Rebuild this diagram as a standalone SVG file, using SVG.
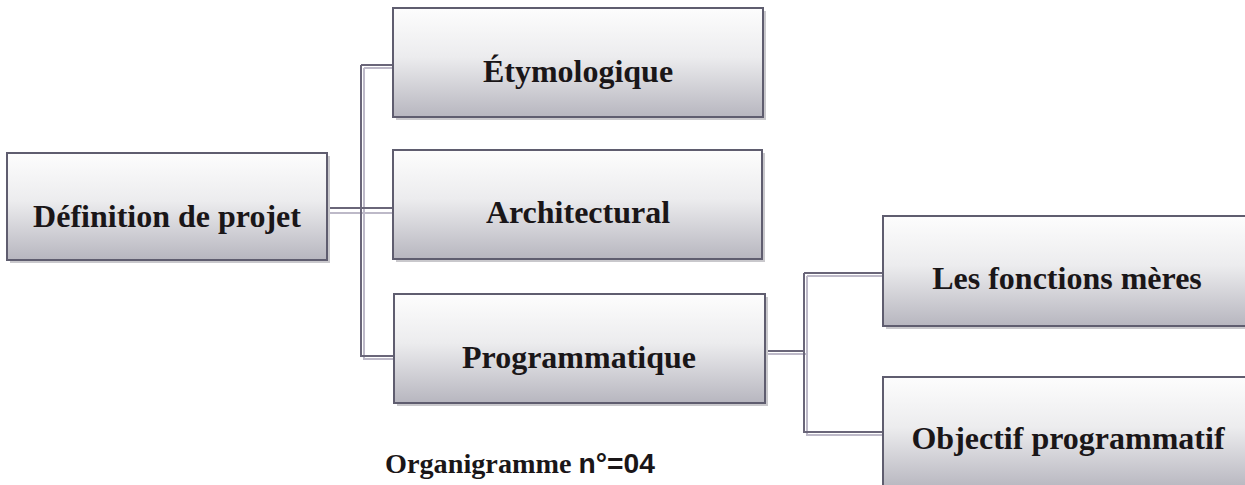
<svg xmlns="http://www.w3.org/2000/svg" width="1245" height="485" viewBox="0 0 1245 485">
<defs>
<linearGradient id="g" x1="0" y1="0" x2="0" y2="1">
<stop offset="0" stop-color="#fdfdfd"/>
<stop offset="0.45" stop-color="#ececee"/>
<stop offset="1" stop-color="#b7b6bf"/>
</linearGradient>
</defs>
<style>
.shadow{fill:#c9c8cc}
.box{fill:url(#g);stroke:#5f5d6f;stroke-width:2}
.lbl{font-family:"Liberation Serif","Times New Roman",serif;font-weight:bold;font-size:32px;fill:#1a1618;text-anchor:middle}
.dk{fill:none;stroke:#6a6679;stroke-width:2}
.lt{fill:none;stroke:#bdb9c8;stroke-width:2}
.cap{font-family:"Liberation Serif","Times New Roman",serif;font-weight:bold;font-size:28px;fill:#1a1618}
</style>
<rect width="1245" height="485" fill="#ffffff"/>
<g id="connectors">
<path class="lt" d="M327 213H394M364 68V359H394M364 68H394"/>
<path class="dk" d="M327 208H393M361 65V356H393M361 65H393"/>
<path class="lt" d="M765 354H807M807 276V435H883M807 276H883"/>
<path class="dk" d="M765 351H804M804 273V432H882M804 273H882"/>
</g>
<g id="node-root">
<rect class="shadow" x="10" y="156" width="320" height="107"/>
<rect class="box" x="7" y="153" width="320" height="107"/>
<text class="lbl" x="167" y="227">Définition de projet</text>
</g>
<g id="node-etymologique">
<rect class="shadow" x="396" y="11" width="370" height="109"/>
<rect class="box" x="393" y="8" width="370" height="109"/>
<text class="lbl" x="578" y="82">Étymologique</text>
</g>
<g id="node-architectural">
<rect class="shadow" x="396" y="153" width="369" height="109"/>
<rect class="box" x="393" y="150" width="369" height="109"/>
<text class="lbl" x="578" y="223">Architectural</text>
</g>
<g id="node-programmatique">
<rect class="shadow" x="397" y="297" width="371" height="109"/>
<rect class="box" x="394" y="294" width="371" height="109"/>
<text class="lbl" x="579" y="368">Programmatique</text>
</g>
<g id="node-fonctions">
<rect class="shadow" x="886" y="219" width="370" height="110"/>
<rect class="box" x="883" y="216" width="370" height="110"/>
<text class="lbl" x="1067" y="289">Les fonctions mères</text>
</g>
<g id="node-objectif">
<rect class="shadow" x="886" y="380" width="370" height="112"/>
<rect class="box" x="883" y="377" width="370" height="112"/>
<text class="lbl" x="1068" y="449">Objectif programmatif</text>
</g>
<text class="cap" x="385" y="473" textLength="270" lengthAdjust="spacingAndGlyphs">Organigramme <tspan font-family="'Liberation Sans',Arial,sans-serif">n°=04</tspan></text>
</svg>
